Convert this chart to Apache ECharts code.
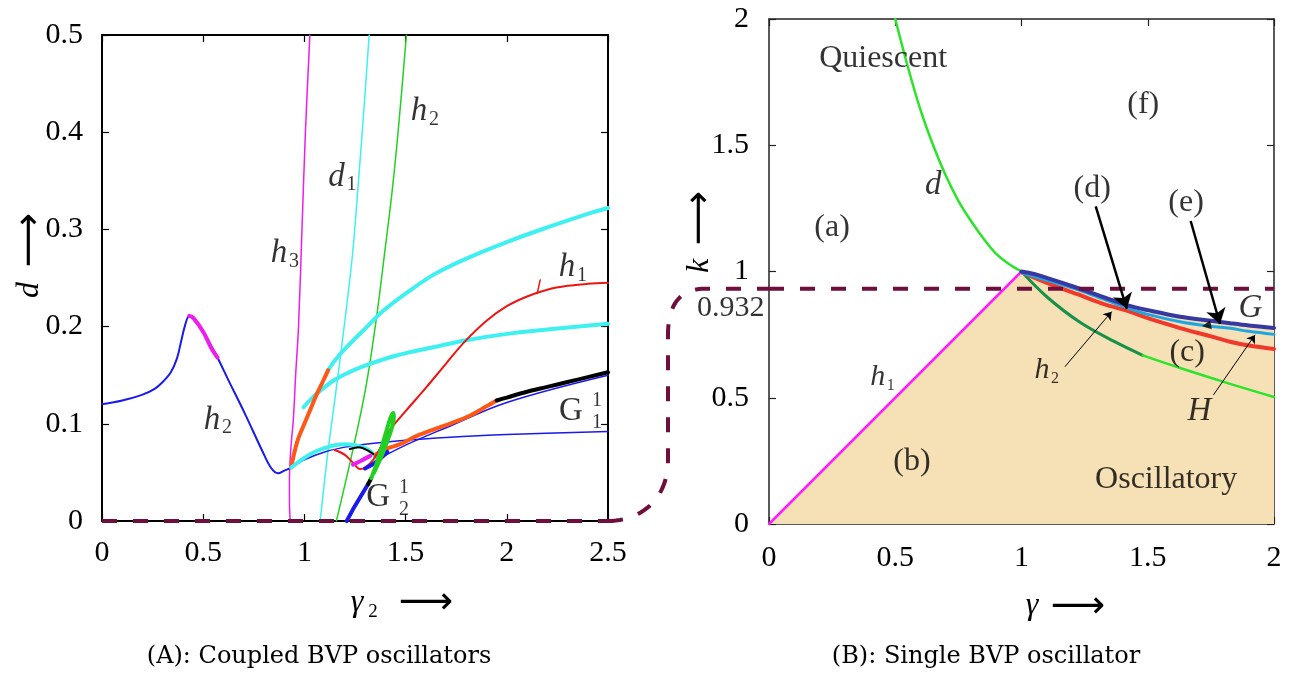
<!DOCTYPE html>
<html>
<head>
<meta charset="utf-8">
<script src="https://cdn.jsdelivr.net/npm/echarts@6.0.0/dist/echarts.min.js"></script>
<style>
  html, body { margin: 0; padding: 0; background: #fff; }
  #chart { width: 1297px; height: 675px; }
</style>
</head>
<body>
<div id="chart"></div>
<script>
const SERIF = '"Liberation Serif", "Times New Roman", serif';

// ---------------- Panel A: coupled BVP oscillators (gamma2, d) ----------------
const xTicksA = ['0', '0.5', '1', '1.5', '2', '2.5'];
const yTicksA = ['0', '0.1', '0.2', '0.3', '0.4', '0.5'];

const h2Main = [[0,0.12],[0.1,0.124],[0.2,0.13],[0.26,0.136],[0.3,0.143],[0.34,0.153],[0.37,0.167],[0.39,0.184],[0.41,0.201],[0.431,0.211],[0.451,0.209],[0.502,0.194],[0.571,0.168],[0.622,0.146],[0.707,0.110],[0.792,0.072],[0.834,0.055],[0.869,0.049],[0.903,0.052],[0.935,0.055]];
const h2Shoulder = [[0.431,0.211],[0.451,0.209],[0.502,0.194],[0.54,0.178],[0.571,0.168]];
const blueThin = [[0.935,0.055],[1.0,0.063],[1.1,0.071],[1.2,0.076],[1.3,0.079],[1.5,0.083],[1.7,0.086],[2.0,0.089],[2.5,0.092]];
const blueUnder = [[1.36,0.063],[1.5,0.078],[1.7,0.096],[2.0,0.122],[2.5,0.15]];
const cyanArc = [[0.935,0.055],[1.0,0.065],[1.05,0.071],[1.1,0.075],[1.15,0.078],[1.2,0.079],[1.25,0.078],[1.3,0.075],[1.33,0.071],[1.35,0.066]];
const orangeRise = [[0.935,0.055],[0.95,0.07],[0.97,0.085],[1.0,0.1],[1.03,0.115],[1.06,0.13],[1.09,0.143],[1.117,0.155]];
const cyanUpper = [[1.117,0.155],[1.15,0.165],[1.2,0.177],[1.3,0.198],[1.388,0.216],[1.5,0.234],[1.643,0.254],[1.8,0.27],[2.0,0.287],[2.2,0.302],[2.4,0.316],[2.5,0.322]];
const cyanMiddle = [[0.996,0.117],[1.05,0.129],[1.133,0.143],[1.2,0.151],[1.303,0.160],[1.45,0.17],[1.643,0.179],[1.8,0.186],[1.984,0.192],[2.2,0.197],[2.5,0.203]];
const h1Red = [[1.15,0.073],[1.2,0.068],[1.24,0.06],[1.275,0.0535],[1.3,0.055],[1.34,0.063],[1.38,0.077],[1.42,0.093],[1.5,0.113],[1.6,0.137],[1.7,0.162],[1.79,0.184],[1.9,0.206],[2.0,0.221],[2.1,0.231],[2.2,0.238],[2.3,0.242],[2.4,0.244],[2.5,0.245]];
const h1Tick = [[2.15,0.234],[2.165,0.248]];
const orangeLower = [[1.35,0.068],[1.4,0.074],[1.473,0.079],[1.55,0.087],[1.643,0.0945],[1.73,0.101],[1.814,0.108],[1.9,0.118],[1.95,0.124]];
const blackUpper = [[1.95,0.124],[2.0,0.127],[2.1,0.133],[2.2,0.138],[2.3,0.143],[2.4,0.148],[2.5,0.153]];
const g12Blue = [[1.209,0],[1.24,0.012],[1.28,0.026],[1.315,0.038]];
const g12Black = [[1.315,0.038],[1.33,0.044]];
const greenLoop = [[1.33,0.044],[1.35,0.055],[1.37,0.068],[1.39,0.082],[1.41,0.096],[1.425,0.106],[1.438,0.111],[1.442,0.107],[1.435,0.098],[1.42,0.088],[1.4,0.077],[1.38,0.066],[1.36,0.057],[1.345,0.05]];
const blackArc = [[1.225,0.074],[1.27,0.076],[1.31,0.073],[1.34,0.069]];
const magentaBit = [[1.24,0.058],[1.28,0.062],[1.325,0.067]];
const blueBit = [[1.3,0.054],[1.35,0.06],[1.41,0.071]];
const h3Curve = [[0.93,0],[0.926,0.02],[0.926,0.04],[0.93,0.065],[0.937,0.085],[0.945,0.103],[0.957,0.151],[0.971,0.2],[0.988,0.3],[1.005,0.4],[1.027,0.5]];
const d1Curve = [[1.078,0],[1.115,0.069],[1.158,0.137],[1.2,0.206],[1.238,0.275],[1.265,0.344],[1.29,0.412],[1.32,0.5]];
const h2Steep = [[1.158,0],[1.235,0.069],[1.303,0.137],[1.354,0.206],[1.396,0.275],[1.436,0.344],[1.468,0.412],[1.504,0.5]];
const baseA = [[0,0],[2.5,0]];

const labelsA = [
  { x: 1.566, y: 0.421, t: 'h', it: true, sub: '2' },
  { x: 1.159, y: 0.354, t: 'd', it: true, sub: '1' },
  { x: 0.875, y: 0.275, t: 'h', it: true, sub: '3' },
  { x: 2.297, y: 0.261, t: 'h', it: true, sub: '1' },
  { x: 0.543, y: 0.104, t: 'h', it: true, sub: '2' },
  { x: 2.317, y: 0.113, t: 'G', sup: '1', sub: '1' },
  { x: 1.364, y: 0.024, t: 'G', sup: '1', sub: '2' }
];

// ---------------- Panel B: single BVP oscillator (gamma, k) ----------------
const xTicksB = ['0', '0.5', '1', '1.5', '2'];
const yTicksB = ['0', '0.5', '1', '1.5', '2'];
const kCut = 0.932;

const h1Line = [[0,0],[1,1]];
const dCurve = [[0.5,2.0],[0.55,1.81],[0.6,1.64],[0.65,1.5],[0.7,1.38],[0.75,1.28],[0.8,1.2],[0.85,1.13],[0.9,1.07],[0.95,1.03],[1.0,1.0],[1.1,0.9],[1.23,0.8],[1.363,0.725],[1.48,0.668],[1.628,0.618],[1.826,0.555],[2.0,0.503]];
const gCurve = [[1.0,1.0],[1.05,0.99],[1.1,0.975],[1.165,0.954],[1.25,0.925],[1.35,0.89],[1.417,0.867],[1.5,0.847],[1.628,0.821],[1.75,0.805],[1.826,0.795],[1.9,0.786],[2.0,0.776]];
const hCurve = [[1.0,0.995],[1.1,0.965],[1.2,0.935],[1.3,0.9],[1.417,0.857],[1.5,0.83],[1.628,0.801],[1.75,0.783],[1.826,0.775],[1.9,0.763],[2.0,0.751]];
const h2Curve = [[1.0,0.997],[1.1,0.955],[1.23,0.907],[1.33,0.87],[1.417,0.845],[1.5,0.815],[1.628,0.776],[1.75,0.743],[1.826,0.722],[1.9,0.707],[2.0,0.693]];
const arrowsBold = [[[1.294,1.258],[1.417,0.852]], [[1.67,1.2],[1.786,0.792]]];
const arrowsThin = [[[1.172,0.623],[1.357,0.841]], [[1.76,0.511],[1.925,0.749]]];
const smallHead = [[1.733,0.786]];

const labelsB = [
  { x: 0.452, y: 1.845, t: 'Quiescent' },
  { x: 1.482, y: 1.66, t: '(f)' },
  { x: 0.65, y: 1.343, t: 'd', it: true },
  { x: 1.28, y: 1.329, t: '(d)' },
  { x: 1.652, y: 1.272, t: '(e)' },
  { x: 0.25, y: 1.173, t: '(a)' },
  { x: 1.907, y: 0.855, t: 'G', it: true },
  { x: 1.656, y: 0.678, t: '(c)' },
  { x: 0.431, y: 0.58, t: 'h', it: true, sub: '1', small: true },
  { x: 1.081, y: 0.608, t: 'h', it: true, sub: '2', small: true },
  { x: 1.705, y: 0.445, t: 'H', it: true },
  { x: 0.566, y: 0.247, t: '(b)' },
  { x: 1.573, y: 0.177, t: 'Oscillatory' }
];

// ---------------- helpers ----------------
function axis(gridIndex, pos, min, max, interval, labels, color, width, margin) {
  return {
    type: 'value', gridIndex, position: pos, min, max, interval,
    axisLine: { show: true, onZero: false, lineStyle: { color, width } },
    axisTick: { show: true, inside: true, length: 7, lineStyle: { color, width: 1.2 } },
    axisLabel: {
      show: !!labels, margin, fontFamily: SERIF, fontSize: 30, color: '#000',
      formatter: v => labels ? labels[Math.round((v - min) / interval)] : ''
    },
    splitLine: { show: false }
  };
}

function curve(panel, data, color, width, z, extra) {
  const ax = panel === 'A' ? 0 : 2;
  return Object.assign({
    type: 'line', xAxisIndex: ax, yAxisIndex: ax, data,
    symbol: 'none', smooth: 0.35, z: z || 2, silent: true,
    lineStyle: { color, width, cap: 'round', join: 'round' }
  }, extra || {});
}

function textItems(list) {
  const items = [];
  list.forEach(l => {
    const single = l.t.length === 1;
    const size = l.small ? 30 : (l.t === 'G' && !l.it ? 33 : (single ? 33 : 32));
    const base = { fontFamily: SERIF, color: '#000' };
    items.push({ value: [l.x, l.y], label: Object.assign({}, base, {
      formatter: l.t, fontSize: size, fontStyle: l.it ? 'italic' : 'normal' }) });
    const dx = l.t === 'G' ? 26 : (l.small ? 13 : 15);
    if (l.sup) items.push({ value: [l.x, l.y], label: Object.assign({}, base, { formatter: l.sup, fontSize: 20, offset: [dx, -10] }) });
    if (l.sub) items.push({ value: [l.x, l.y], label: Object.assign({}, base, { formatter: l.sub, fontSize: l.small ? 16 : 20, offset: [dx, l.t === 'G' ? 12 : 8] }) });
  });
  return items;
}

function textSeries(panel, list) {
  const ax = panel === 'A' ? 0 : 2;
  return {
    type: 'scatter', xAxisIndex: ax, yAxisIndex: ax, symbolSize: 1, silent: true, z: 20,
    itemStyle: { color: 'rgba(0,0,0,0)' },
    label: { show: true, position: 'inside' },
    data: textItems(list)
  };
}

const C = {
  blue: '#1a1aee', magenta: '#ee1cee', cyan: '#3ff0f0', green: '#22d022',
  red: '#ee1414', orange: '#ff5714', black: '#000000', maroon: '#6e0f3e',
  bMagenta: '#ff1cff', bGreen: '#2ae42a', bDarkGreen: '#17904a', bRed: '#f0392a',
  bLight: '#1ea6e2', bDark: '#3838a2', fill: '#f6e0b5'
};

const dUpper = dCurve.filter(p => p[0] <= 1.0);
const dMid = dCurve.filter(p => p[0] >= 1.0 && p[0] <= 1.48);
const dLow = dCurve.filter(p => p[0] >= 1.48);
const fillEdge = h1Line.concat(gCurve.slice(1));
const dashStyle = { color: C.maroon, width: 4, type: [15, 16] };

const series = [
  // panel A
  curve('A', h3Curve, C.magenta, 1.5, 2),
  curve('A', d1Curve, C.cyan, 1.5, 2),
  curve('A', h2Steep, C.green, 1.5, 2),
  curve('A', blueThin, C.blue, 1.5, 3),
  curve('A', blueUnder, C.blue, 1.5, 3),
  curve('A', h2Main, C.blue, 2, 4),
  curve('A', h2Shoulder, C.magenta, 4, 5),
  curve('A', cyanUpper, C.cyan, 4, 5),
  curve('A', cyanMiddle, C.cyan, 4, 5),
  curve('A', orangeRise, C.orange, 4, 6),
  curve('A', cyanArc, C.cyan, 4, 6),
  curve('A', h1Red, C.red, 2, 7),
  curve('A', h1Tick, C.red, 1.5, 7, { smooth: false }),
  curve('A', orangeLower, C.orange, 4, 6),
  curve('A', blackUpper, C.black, 4, 6),
  curve('A', blackArc, C.black, 2, 7),
  curve('A', magentaBit, C.magenta, 4, 7),
  curve('A', blueBit, C.blue, 4, 7),
  curve('A', g12Blue, C.blue, 4, 7, { smooth: false }),
  curve('A', g12Black, C.black, 4, 8, { smooth: false }),
  curve('A', greenLoop, C.green, 4, 8),
  curve('A', baseA, C.maroon, 4, 9, { smooth: false, lineStyle: dashStyle }),
  textSeries('A', labelsA),

  // panel B
  curve('B', fillEdge, C.fill, 0, 1, { smooth: false, areaStyle: { color: C.fill, opacity: 1 }, lineStyle: { width: 0 } }),
  curve('B', h1Line, C.bMagenta, 2.5, 3, { smooth: false }),
  curve('B', dUpper, C.bGreen, 2.5, 3),
  curve('B', dMid, C.bDarkGreen, 3, 3),
  curve('B', dLow, C.bGreen, 2.5, 3),
  curve('B', h2Curve, C.bRed, 4, 4),
  curve('B', hCurve, C.bLight, 3, 5),
  curve('B', gCurve, C.bDark, 4, 6),
  curve('B', [[0, kCut], [2, kCut]], C.maroon, 4, 7, { smooth: false, lineStyle: dashStyle }),
  {
    type: 'lines', coordinateSystem: 'cartesian2d', xAxisIndex: 2, yAxisIndex: 2, z: 10, silent: true,
    symbol: ['none', 'arrow'], symbolSize: 15,
    lineStyle: { color: '#000', width: 2.5, opacity: 1 },
    data: arrowsBold.map(c => ({ coords: c }))
  },
  {
    type: 'lines', coordinateSystem: 'cartesian2d', xAxisIndex: 2, yAxisIndex: 2, z: 10, silent: true,
    symbol: ['none', 'arrow'], symbolSize: 8,
    lineStyle: { color: '#000', width: 1, opacity: 1 },
    data: arrowsThin.map(c => ({ coords: c }))
  },
  {
    type: 'scatter', xAxisIndex: 2, yAxisIndex: 2, z: 11, silent: true,
    symbol: 'triangle', symbolSize: 9, symbolRotate: 100,
    itemStyle: { color: '#000' }, data: smallHead
  },
  {
    type: 'scatter', xAxisIndex: 2, yAxisIndex: 2, symbolSize: 1, silent: true, z: 20,
    itemStyle: { color: 'rgba(0,0,0,0)' },
    label: { show: true, position: 'left', distance: 4, formatter: String(kCut), fontFamily: SERIF, fontSize: 30, color: '#000', offset: [0, 19] },
    data: [[0, kCut]]
  },
  textSeries('B', labelsB)
];

const chart = echarts.init(document.getElementById('chart'), null, { renderer: 'canvas' });
chart.setOption({
  animation: false,
  backgroundColor: '#fff',
  grid: [
    { left: 102, top: 35, width: 506, height: 486 },
    { left: 769, top: 19, width: 505, height: 505 }
  ],
  xAxis: [
    axis(0, 'bottom', 0, 2.5, 0.5, xTicksA, '#000', 2, 17),
    axis(0, 'top', 0, 2.5, 0.5, null, '#000', 2, 8),
    axis(1, 'bottom', 0, 2, 0.5, xTicksB, '#222', 1.5, 19),
    axis(1, 'top', 0, 2, 0.5, null, '#222', 1.5, 8)
  ],
  yAxis: [
    axis(0, 'left', 0, 0.5, 0.1, yTicksA, '#000', 2, 19),
    axis(0, 'right', 0, 0.5, 0.1, null, '#000', 2, 8),
    axis(1, 'left', 0, 2, 0.5, yTicksB, '#222', 1.5, 20),
    axis(1, 'right', 0, 2, 0.5, null, '#222', 1.5, 8)
  ],
  series
});

// dashed connector from the d = 0 baseline of panel A to the k = 0.932 level of panel B
const p0 = chart.convertToPixel({ gridIndex: 0 }, [2.5, 0]);
const p1 = chart.convertToPixel({ gridIndex: 1 }, [0, kCut]);
const xm = p0[0] + 60;
function cubic(a, b, c, d, n) {
  const pts = [];
  for (let i = 0; i <= n; i++) {
    const t = i / n, u = 1 - t;
    pts.push([
      u*u*u*a[0] + 3*u*u*t*b[0] + 3*u*t*t*c[0] + t*t*t*d[0],
      u*u*u*a[1] + 3*u*u*t*b[1] + 3*u*t*t*c[1] + t*t*t*d[1]
    ]);
  }
  return pts;
}
const connector = []
  .concat(cubic(p0, [p0[0] + 32, p0[1]], [xm, p0[1] - 21], [xm, p0[1] - 61], 24))
  .concat(cubic([xm, p1[1] + 46], [xm, p1[1] + 16], [xm + 12, p1[1]], [xm + 37, p1[1]], 24))
  .concat([p1]);

function txt(x, y, text, size, opts) {
  const el = {
    type: 'text', x, y, silent: true, z: 50,
    style: Object.assign({ text, fontSize: size, fontFamily: SERIF, fill: '#000', align: 'center', verticalAlign: 'middle' }, (opts && opts.style) || {})
  };
  if (opts && opts.rotation) el.rotation = opts.rotation;
  return el;
}

const ARROW = { fontFamily: '"DejaVu Sans"' };
const CAPTION = { fontFamily: '"DejaVu Serif", serif' };

chart.setOption({
  graphic: [
    { type: 'polyline', silent: true, z: 5, shape: { points: connector },
      style: { fill: null, stroke: C.maroon, lineWidth: 4, lineDash: [15, 16] } },
    // panel A axis names
    txt(357, 603, 'γ', 32, { style: { fontStyle: 'italic' } }),
    txt(373, 612, '2', 19),
    txt(426, 603, '⟶', 38, { style: ARROW }),
    txt(30, 290, 'd', 32, { rotation: Math.PI / 2, style: { fontStyle: 'italic' } }),
    txt(30, 240, '⟶', 38, { rotation: Math.PI / 2, style: ARROW }),
    // panel B axis names
    txt(1032, 606, 'γ', 32, { style: { fontStyle: 'italic' } }),
    txt(1078, 607, '⟶', 38, { style: ARROW }),
    txt(700, 266, 'k', 32, { rotation: Math.PI / 2, style: { fontStyle: 'italic' } }),
    txt(700, 218, '⟶', 38, { rotation: Math.PI / 2, style: ARROW }),
    // captions
    txt(319, 657, '(A): Coupled BVP oscillators', 24, { style: CAPTION }),
    txt(986, 657, '(B): Single BVP oscillator', 24, { style: CAPTION })
  ]
});
</script>
</body>
</html>
